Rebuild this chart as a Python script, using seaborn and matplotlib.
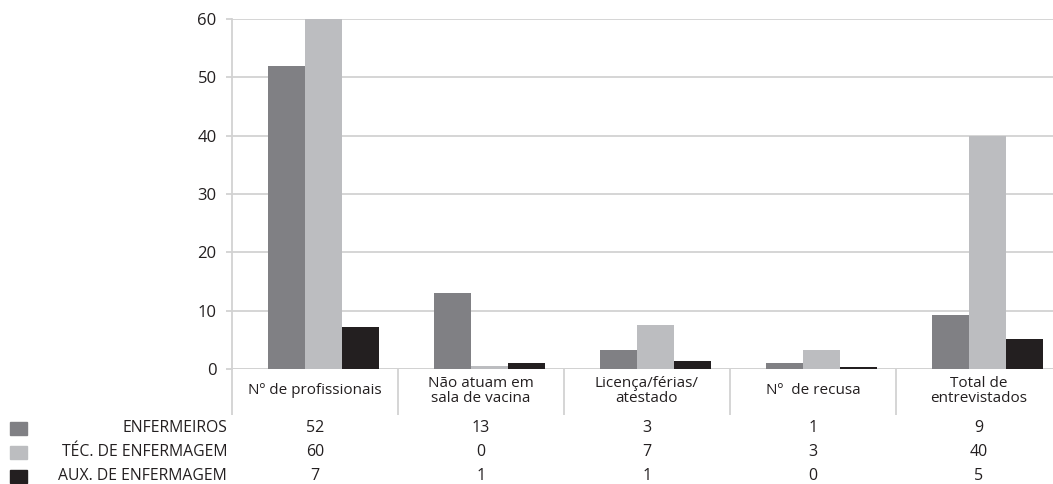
import matplotlib
matplotlib.use("Agg")
import matplotlib.pyplot as plt
import matplotlib.transforms as mtransforms
from matplotlib.patches import Rectangle
import seaborn as sns
import pandas as pd

categories = ["Nº de profissionais", "Não atuam em\nsala de vacina", "Licença/férias/\natestado",
              "Nº  de recusa", "Total de\nentrevistados"]
series = ["ENFERMEIROS", "TÉC. DE ENFERMAGEM", "AUX. DE ENFERMAGEM"]
enfermeiros = [52, 13, 3.3, 1.1, 9.3]
tec_enfermagem = [60, 0.5, 7.5, 3.3, 40]
aux_enfermagem = [7.2, 1.0, 1.3, 0.3, 5.1]
table_enf = ["52", "13", "3", "1", "9"]
table_tec = ["60", "0", "7", "3", "40"]
table_aux = ["7", "1", "1", "0", "5"]
yticks = [0, 10, 20, 30, 40, 50, 60]
colors = ["#808084", "#bcbdc0", "#231f20"]

sns.set_theme(style="white")
plt.rcParams["font.family"] = ["Open Sans", "DejaVu Sans"]
TXT = "#231f20"
GRID = "#d2d2d2"

rows = []
for name, vals in zip(series, [enfermeiros, tec_enfermagem, aux_enfermagem]):
    for c, v in zip(categories, vals):
        rows.append({"cat": c, "val": v, "grp": name})
df = pd.DataFrame(rows)

W, H = 1053, 484
fig = plt.figure(figsize=(W / 100, H / 100), dpi=100)
ax_left, ax_right, ax_top, ax_bot = 232, 1062, 19, 369
ax = fig.add_axes([ax_left / W, 1 - ax_bot / H, (ax_right - ax_left) / W, (ax_bot - ax_top) / H])

sns.barplot(data=df, x="cat", y="val", hue="grp", order=categories, hue_order=series,
            palette=colors, saturation=1, width=0.67, dodge=True, ax=ax, legend=False,
            linewidth=0, errorbar=None, zorder=3)

off = 0.05
ax.set_xlim(-0.5 - off, 4.5 - off)
ax.set_ylim(0, 60)
ax.set_yticks(yticks)
ax.set_yticklabels([str(t) for t in yticks], fontsize=12, color=TXT)
ax.yaxis.grid(True, color=GRID, linewidth=1.3, zorder=0)
ax.set_axisbelow(True)
ax.tick_params(axis="y", length=4, width=1.3, color=GRID, pad=7, left=True)
for s in ["top", "right", "bottom"]:
    ax.spines[s].set_visible(False)
ax.spines["left"].set_color(GRID)
ax.spines["left"].set_linewidth(1.3)
ax.spines["left"].set_zorder(1)
ax.axhline(0, color=GRID, linewidth=1.3, zorder=1)

# category separators
ax.set_xticks([k - off for k in range(5)])
ax.set_xticklabels([])
ax.set_xticks([-0.5 - off + k for k in range(6)], minor=True)
ax.tick_params(axis="x", which="major", length=0)
ax.tick_params(axis="x", which="minor", length=33, width=1.3, color=GRID, bottom=True, direction="out")
ax.set_xlabel("")
ax.set_ylabel("")

trans = mtransforms.blended_transform_factory(ax.transData, ax.transAxes)
px = 1 / (ax_bot - ax_top)
for k, c in enumerate(categories):
    ax.text(k - off, -22 * px, c, transform=trans, ha="center", va="center",
            fontsize=11, color=TXT, linespacing=1.0)

# data table
row_y = [428, 452, 476]
for name, col, yy, vals in zip(series, colors, row_y, [table_enf, table_tec, table_aux]):
    yf = 1 - yy / H
    fig.text(227 / W, yf, name, ha="right", va="center", fontsize=11.3, color=TXT)
    fig.patches.append(Rectangle((10 / W, 1 - (yy + 7) / H), 17 / W, 13 / H,
                                 transform=fig.transFigure, color=col, figure=fig))
    for k, v in enumerate(vals):
        ax.text(k - off, (ax_bot - yy) * px, v, transform=trans, ha="center", va="center",
                fontsize=11.5, color=TXT, clip_on=False)

fig.savefig("out.png", dpi=100)
